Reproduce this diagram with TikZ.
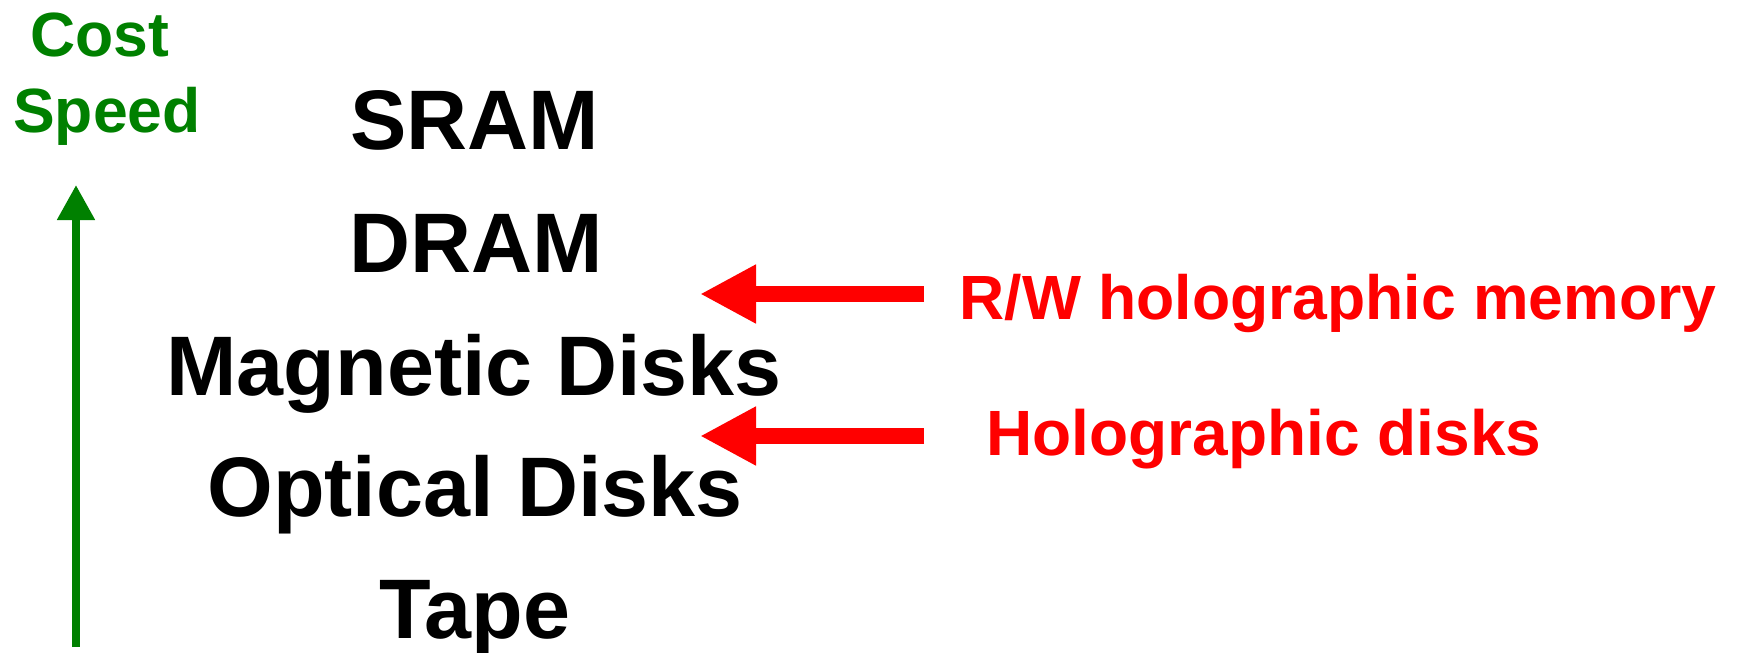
\documentclass[tikz,border=0pt]{standalone}
\usepackage{fontspec}
\setmainfont{Liberation Sans}
\usetikzlibrary{arrows.meta}
\definecolor{dkgreen}{RGB}{0,128,0}
\definecolor{pred}{RGB}{255,0,0}
\begin{document}
\begin{tikzpicture}[x=1pt,y=-1pt,
  level/.style={anchor=base,inner sep=0pt,font=\fontsize{84.5}{90}\selectfont\bfseries},
  note/.style={anchor=base,inner sep=0pt,text=pred,font=\fontsize{62.5}{70}\selectfont\bfseries},
  axislabel/.style={anchor=base,inner sep=0pt,text=dkgreen,font=\fontsize{62.5}{70}\selectfont\bfseries},
  redarrow/.style={draw=pred,line width=16pt,-{Triangle[length=56pt,width=55pt]}},
  greenarrow/.style={draw=dkgreen,line width=8pt,-{Triangle[length=35pt,width=36pt]}}]
\useasboundingbox (0,0) rectangle (1754,653);
\node[axislabel] (cost) at (100,56) {Cost};
\node[axislabel] (speed) at (107,132) {Speed};
\node[level] (sram) at (475,149) {SRAM};
\node[level] (dram) at (476,272) {DRAM};
\node[level] (mag) at (474,395) {Magnetic Disks};
\node[level] (opt) at (475,516) {Optical Disks};
\node[level] (tape) at (475,638) {Tape};
\node[note] (rw) at (1338,319) {R/W holographic memory};
\node[note,font=\fontsize{64}{70}\selectfont\bfseries] (hd) at (1264,455) {Holographic disks};
\coordinate (g0) at (76,647);
\coordinate (g1) at (76,185);
\coordinate (s1) at (924,294);
\coordinate (t1) at (700,294);
\coordinate (s2) at (924,436);
\coordinate (t2) at (700,436);
\draw[greenarrow] (g0) -- (g1);
\draw[redarrow] (s1) -- (t1);
\draw[redarrow] (s2) -- (t2);
\end{tikzpicture}
\end{document}
